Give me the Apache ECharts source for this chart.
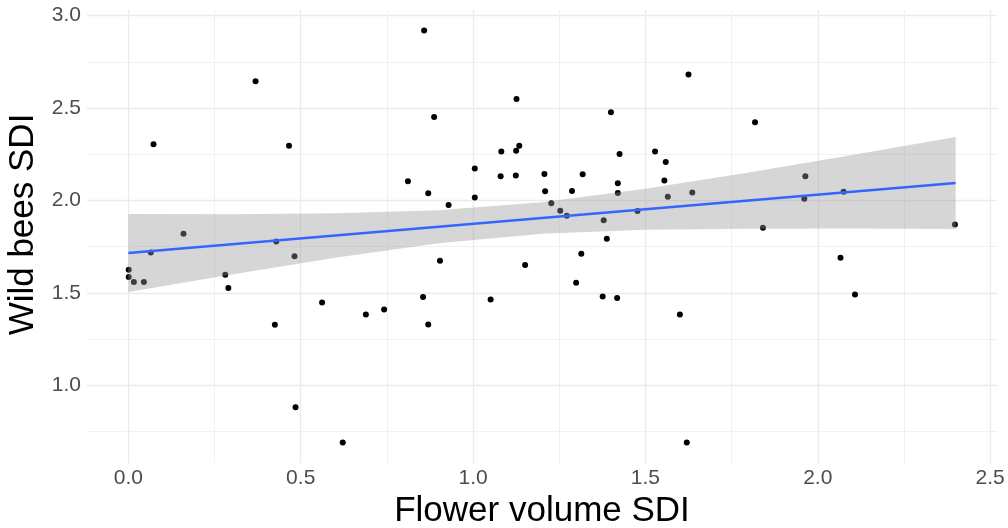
<!DOCTYPE html>
<html>
<head>
<meta charset="utf-8">
<title>Wild bees SDI vs Flower volume SDI</title>
<script src="https://cdn.jsdelivr.net/npm/echarts@6/dist/echarts.min.js"></script>
<style>
  html, body { margin: 0; padding: 0; background: #fff; }
  #chart { width: 1008px; height: 528px; }
</style>
</head>
<body>
<div id="chart"></div>
<script>
// observed points (flower volume SDI, wild bees SDI)
const flowerSDI = [
  0.369, 0.073, 0.466, 0.811, 0.160, 0.858, 0.887, 0.870, 0.929, 1.005,
  1.005, 1.082, 1.080, 1.126, 1.125, 1.134, 1.124, 1.207, 1.209, 1.227,
  1.253, 1.272, 1.287, 1.318, 1.400, 1.425, 1.420, 1.420, 1.379, 1.388,
  1.477, 1.528, 1.559, 1.555, 1.565, 1.625, 1.636, 1.818, 1.964, 1.961,
  2.075, 1.841, 2.398, 0.065, 0.001, 0.001, 0.016, 0.045, 0.281, 0.290,
  0.429, 0.482, 0.562, 0.689, 0.742, 0.425, 0.485, 0.622, 0.904, 1.151,
  1.314, 1.299, 0.855, 0.870, 1.051, 1.376, 1.418, 1.600, 1.620, 2.066,
  2.108
]
const beesSDI = [
  2.644, 2.303, 2.296, 2.104, 1.820, 2.919, 2.451, 2.038, 1.975, 2.173,
  2.015, 2.265, 2.130, 2.549, 2.269, 2.296, 2.134, 2.143, 2.049, 1.984,
  1.944, 1.917, 2.051, 2.141, 2.477, 2.251, 2.092, 2.040, 1.892, 1.793,
  1.943, 2.265, 2.208, 2.108, 2.020, 2.681, 2.042, 2.422, 2.130, 2.009,
  2.047, 1.852, 1.870, 1.718, 1.625, 1.585, 1.558, 1.558, 1.598, 1.526,
  1.778, 1.697, 1.448, 1.383, 1.410, 1.327, 0.881, 0.690, 1.673, 1.650,
  1.711, 1.554, 1.477, 1.329, 1.464, 1.480, 1.472, 1.383, 0.690, 1.690,
  1.491
]

// fitted line and confidence band
const fitX = [0, 2.4]
const fitY = [1.715, 2.094]
const bandX = [0, 0.3, 0.6, 0.9, 1.2, 1.5, 1.8, 2.1, 2.4]
const bandUpper = [1.926, 1.925, 1.930, 1.946, 1.990, 2.063, 2.151, 2.246, 2.343]
const bandLower = [1.504, 1.599, 1.690, 1.768, 1.820, 1.841, 1.847, 1.848, 1.845]

// axis ticks
const xTicks = [0, 0.5, 1.0, 1.5, 2.0, 2.5]
const xMinor = [0.25, 0.75, 1.25, 1.75, 2.25]
const yTicks = [1.0, 1.5, 2.0, 2.5, 3.0]
const yMinor = [0.75, 1.25, 1.75, 2.25, 2.75]

const FONT = '"Liberation Sans", Arial, sans-serif'

let mycharts = echarts.init(document.getElementById('chart'))

const points = flowerSDI.map((x, i) => [x, beesSDI[i]])

// grid lines as mark lines so they don't depend on the axis min
const gridLines = []
xMinor.forEach(v => gridLines.push({ xAxis: v, lineStyle: { color: '#F1F1F1', width: 1, type: 'solid' } }))
yMinor.forEach(v => gridLines.push({ yAxis: v, lineStyle: { color: '#F1F1F1', width: 1, type: 'solid' } }))
xTicks.forEach(v => gridLines.push({ xAxis: v, lineStyle: { color: '#EBEBEB', width: 1.3, type: 'solid' } }))
yTicks.forEach(v => gridLines.push({ yAxis: v, lineStyle: { color: '#EBEBEB', width: 1.3, type: 'solid' } }))

mycharts.setOption({
  animation: false,
  grid: {
    left: 87,
    right: 11,
    top: 10,
    bottom: 65,
    outerBoundsMode: 'none',
    containLabel: false,
  },
  xAxis: {
    type: 'value',
    min: -0.12,
    max: 2.52,
    name: 'Flower volume SDI',
    nameLocation: 'middle',
    nameGap: 30,
    nameTextStyle: { fontFamily: FONT, fontSize: 35, color: '#000' },
    axisLine: { show: false },
    axisTick: { show: false },
    splitLine: { show: false },
    axisLabel: {
      customValues: xTicks,
      formatter: v => v.toFixed(1),
      fontFamily: FONT,
      fontSize: 21,
      color: '#4D4D4D',
      margin: 5,
    },
  },
  yAxis: {
    type: 'value',
    min: 0.579,
    max: 3.030,
    name: 'Wild bees SDI',
    nameLocation: 'middle',
    nameGap: 45,
    nameTextStyle: {
      fontFamily: FONT,
      fontSize: 35,
      color: '#000',
      padding: [0, 0, 0, 24],
    },
    axisLine: { show: false },
    axisTick: { show: false },
    splitLine: { show: false },
    axisLabel: {
      customValues: yTicks,
      formatter: v => v.toFixed(1),
      fontFamily: FONT,
      fontSize: 21,
      color: '#4D4D4D',
      margin: 6,
    },
  },
  series: [
    {
      name: 'grid',
      type: 'line',
      data: [],
      z: 0,
      silent: true,
      markLine: {
        silent: true,
        z: 0,
        symbol: ['none', 'none'],
        label: { show: false },
        emphasis: { disabled: true },
        data: gridLines,
      },
    },
    {
      name: 'points',
      type: 'scatter',
      data: points,
      symbolSize: 6,
      itemStyle: { color: '#000', opacity: 1 },
      z: 2,
    },
    {
      name: 'band',
      type: 'custom',
      data: [[0]],
      z: 3,
      silent: true,
      renderItem: (params, api) => {
        const pts = bandX.map((x, i) => api.coord([x, bandUpper[i]]))
        for (let i = bandX.length - 1; i >= 0; i--) {
          pts.push(api.coord([bandX[i], bandLower[i]]))
        }
        return {
          type: 'polygon',
          shape: { points: pts },
          style: { fill: 'rgba(153,153,153,0.4)' },
        }
      },
    },
    {
      name: 'fit',
      type: 'line',
      data: fitX.map((x, i) => [x, fitY[i]]),
      showSymbol: false,
      symbol: 'none',
      lineStyle: { color: '#3366FF', width: 2.5 },
      z: 4,
    },
  ],
})
</script>
</body>
</html>
